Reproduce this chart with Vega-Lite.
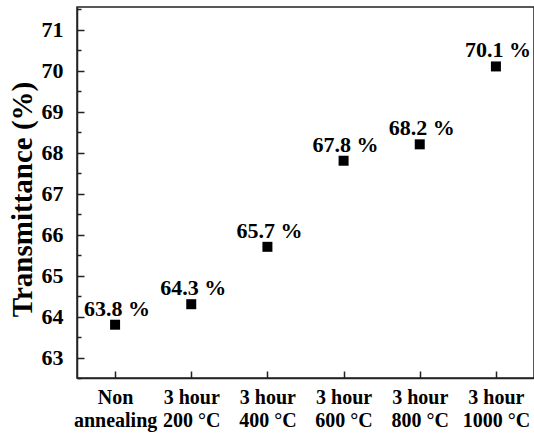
{
  "$schema": "https://vega.github.io/schema/vega-lite/v6.json",
  "width": 457,
  "height": 371,
  "autosize": "none",
  "padding": {"left": 77, "top": 7, "right": 0, "bottom": 58},
  "config": {
    "font": "Liberation Serif",
    "view": {"stroke": "#222", "strokeWidth": 1.5},
    "axis": {"domainColor": "#222", "domainWidth": 1.5, "tickColor": "#222", "tickWidth": 1.5, "grid": false, "labelColor": "#000", "titleColor": "#000", "labelFont": "Liberation Serif", "titleFont": "Liberation Serif", "labelFontWeight": "bold", "titleFontWeight": "bold"}
  },
  "data": {
    "values": [
      {"cat": "Non|annealing", "value": 63.8, "label": "63.8 %"},
      {"cat": "3 hour|200 °C", "value": 64.3, "label": "64.3 %"},
      {"cat": "3 hour|400 °C", "value": 65.7, "label": "65.7 %"},
      {"cat": "3 hour|600 °C", "value": 67.8, "label": "67.8 %"},
      {"cat": "3 hour|800 °C", "value": 68.2, "label": "68.2 %"},
      {"cat": "3 hour|1000 °C", "value": 70.1, "label": "70.1 %"}
    ]
  },
  "encoding": {
    "x": {
      "field": "cat", "type": "nominal", "sort": null,
      "scale": {"type": "point", "padding": 0.5},
      "axis": {"title": null, "labelAngle": 0, "labelExpr": "split(datum.label, '|')", "labelFontSize": 20, "labelLineHeight": 23, "tickSize": -7, "labelPadding": 16, "domain": true}
    }
  },
  "layer": [
    {
      "mark": {"type": "point", "shape": "square", "filled": true, "color": "#000", "size": 100, "opacity": 1},
      "encoding": {
        "y": {
          "field": "value", "type": "quantitative",
          "scale": {"domain": [62.5, 71.55], "nice": false, "zero": false},
          "axis": {"title": "Transmittance (%)", "titleFontSize": 29, "titlePadding": 4, "titleY": 192, "values": [63, 64, 65, 66, 67, 68, 69, 70, 71], "labelFontSize": 22, "tickSize": -7, "labelPadding": 21, "orient": "left"}
        }
      }
    },
    {
      "mark": {"type": "text", "fontSize": 22, "fontWeight": "bold", "font": "Liberation Serif", "color": "#000", "dy": -9, "dx": 2, "baseline": "alphabetic", "align": "center"},
      "encoding": {
        "y": {"field": "value", "type": "quantitative",
          "axis": {"orient": "left", "title": null, "labels": false, "domain": false, "values": [62.5, 63.5, 64.5, 65.5, 66.5, 67.5, 68.5, 69.5, 70.5, 71.5], "tickSize": -4}},
        "text": {"field": "label"}
      }
    }
  ],
  "resolve": {"axis": {"y": "independent"}}
}
